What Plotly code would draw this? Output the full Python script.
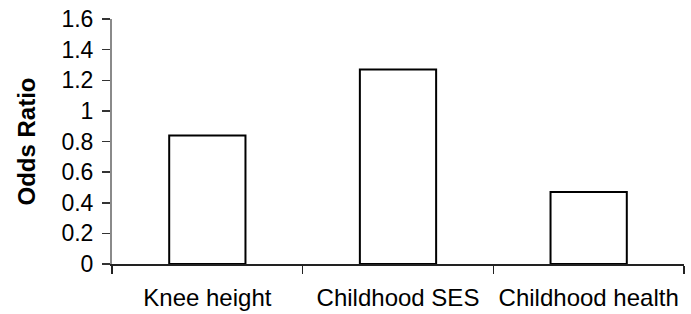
import plotly.graph_objects as go

categories = ["Knee height", "Childhood SES", "Childhood health"]
odds_ratio = [0.84, 1.27, 0.47]
y_ticks = [0, 0.2, 0.4, 0.6, 0.8, 1, 1.2, 1.4, 1.6]
y_tick_labels = ["0", "0.2", "0.4", "0.6", "0.8", "1", "1.2", "1.4", "1.6"]

FONT = "Liberation Sans, Arial, sans-serif"

fig = go.Figure(
    go.Bar(
        x=categories,
        y=odds_ratio,
        marker=dict(color="white", line=dict(color="black", width=2)),
        hoverinfo="skip",
    )
)

fig.update_layout(
    width=691,
    height=314,
    margin=dict(l=112, r=7, t=19, b=50),
    paper_bgcolor="white",
    plot_bgcolor="white",
    bargap=0.6,
    showlegend=False,
    font=dict(family=FONT, color="black", size=23),
)

fig.update_xaxes(
    type="category",
    range=[-0.5, 2.5],
    showline=True,
    linecolor="#222222",
    linewidth=1.5,
    ticks="outside",
    tickson="boundaries",
    ticklen=8,
    tickwidth=1.5,
    tickcolor="#222222",
    showgrid=False,
    zeroline=False,
    tickfont=dict(family=FONT, size=24, color="black"),
    ticklabelstandoff=12,
    automargin=False,
)

fig.update_yaxes(
    range=[0, 1.6],
    tickvals=y_ticks,
    ticktext=y_tick_labels,
    showline=True,
    linecolor="#8a8a8a",
    linewidth=2,
    ticks="outside",
    ticklen=8,
    tickwidth=1.5,
    tickcolor="#333333",
    showgrid=False,
    zeroline=False,
    tickfont=dict(family=FONT, size=23, color="black"),
    ticklabelstandoff=4,
    title=dict(text="<b>Odds Ratio</b>", font=dict(family=FONT, size=24, color="black"), standoff=19),
    automargin=False,
)

fig.write_html(
    "out.html",
    config={"displayModeBar": False, "staticPlot": True},
    post_script="document.body.style.margin='0px';document.body.style.overflow='hidden';",
)
